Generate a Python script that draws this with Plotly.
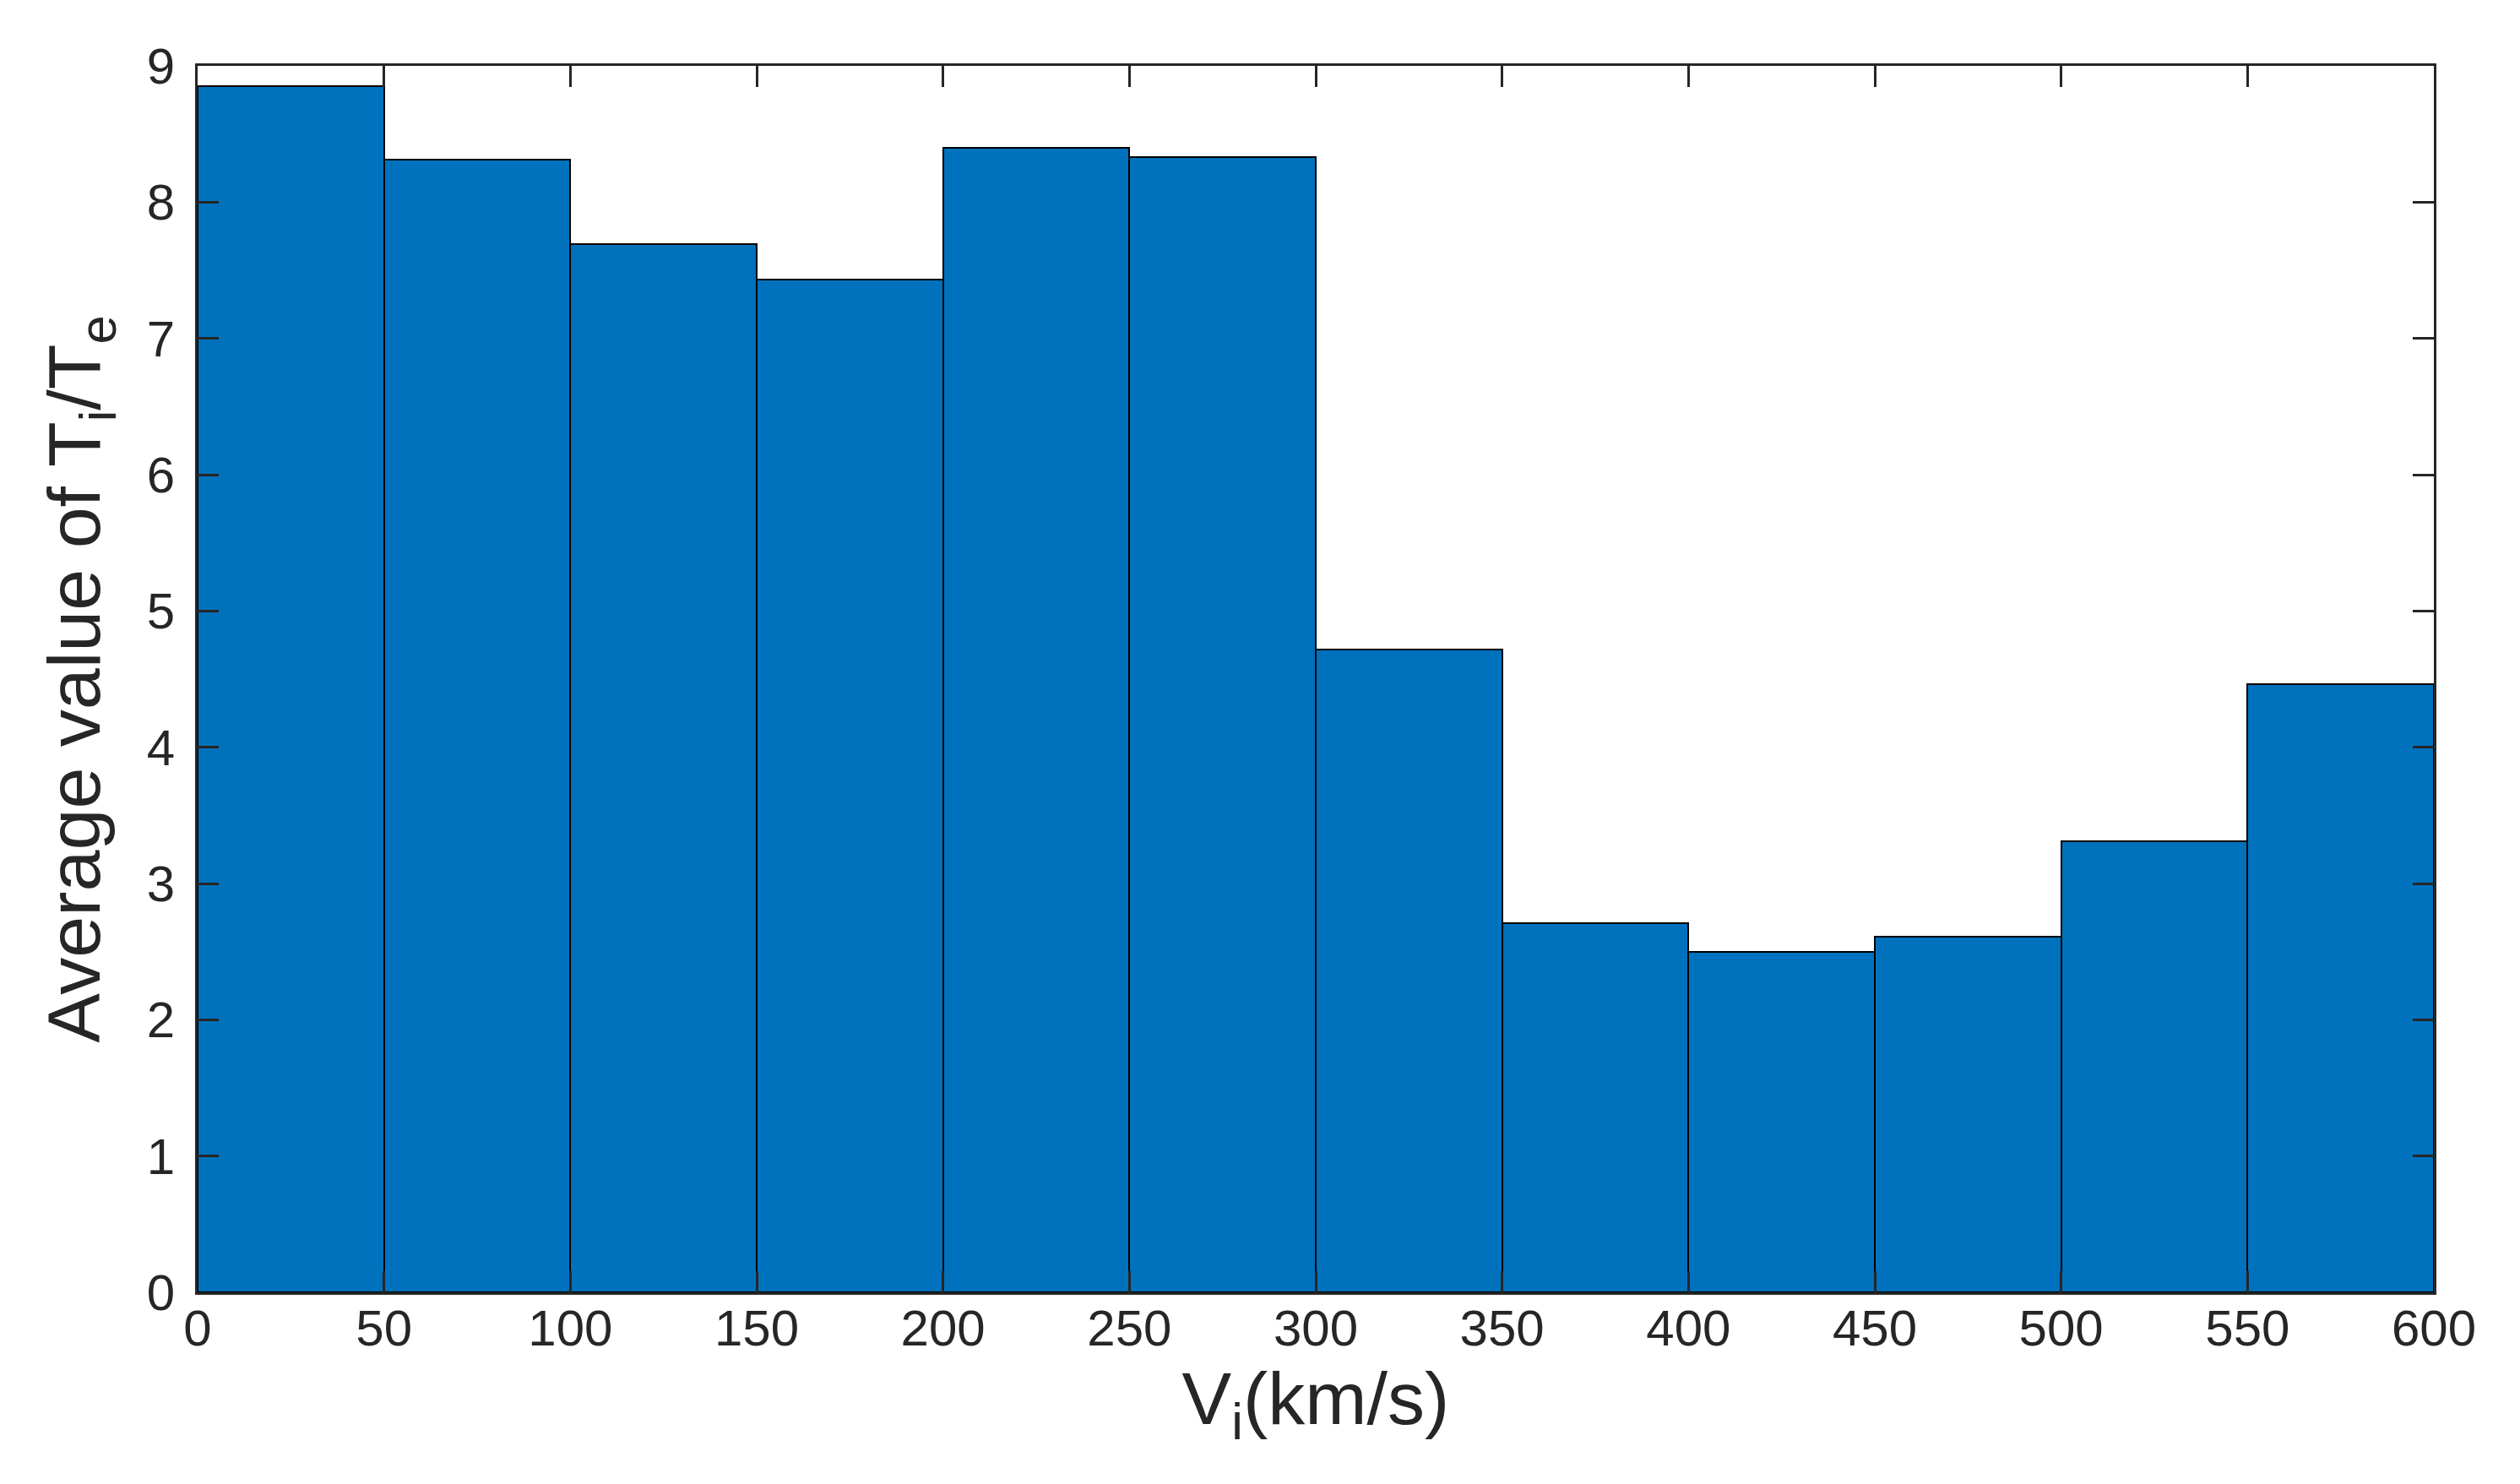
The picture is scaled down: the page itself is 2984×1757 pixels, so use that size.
import plotly.graph_objects as go

bin_left = [0, 50, 100, 150, 200, 250, 300, 350, 400, 450, 500, 550]
bin_width = 50
avg_ratio = [8.85, 8.31, 7.69, 7.43, 8.40, 8.33, 4.72, 2.71, 2.50, 2.61, 3.31, 4.46]
x_ticks = [0, 50, 100, 150, 200, 250, 300, 350, 400, 450, 500, 550, 600]
y_ticks = [0, 1, 2, 3, 4, 5, 6, 7, 8, 9]

centers = [b + bin_width / 2 for b in bin_left]

axis_color = "#262626"
font_family = "Liberation Sans, Arial, Helvetica, sans-serif"

fig = go.Figure()
fig.add_trace(go.Bar(
    x=centers,
    y=avg_ratio,
    width=[bin_width] * len(centers),
    marker=dict(color="#0072BD", line=dict(color="#000000", width=2)),
    showlegend=False,
))

common_axis = dict(
    showline=True,
    linecolor=axis_color,
    linewidth=3,
    mirror="ticks",
    ticks="inside",
    ticklen=25,
    tickwidth=3,
    tickcolor=axis_color,
    showgrid=False,
    zeroline=False,
    tickfont=dict(family=font_family, size=60, color=axis_color),
)

fig.update_layout(
    width=2984,
    height=1757,
    margin=dict(l=226, r=110, t=70, b=235),
    paper_bgcolor="white",
    plot_bgcolor="white",
    bargap=0,
    font=dict(family=font_family, color=axis_color),
    xaxis=dict(
        range=[0, 600],
        tickmode="array",
        tickvals=x_ticks,
        ticktext=[str(v) for v in x_ticks],
        ticklabelstandoff=-12,
        title=dict(text="V<sub>i</sub>(km/s)", font=dict(family=font_family, size=88, color=axis_color), standoff=0),
        **common_axis,
    ),
    yaxis=dict(
        range=[0, 9],
        tickmode="array",
        tickvals=y_ticks,
        ticktext=[str(v) for v in y_ticks],
        ticklabelstandoff=12,
        title=dict(text="Average value of T<sub>i</sub>/T<sub>e</sub>", font=dict(family=font_family, size=88, color=axis_color), standoff=26),
        **common_axis,
    ),
)

fig.write_html("out.html")
